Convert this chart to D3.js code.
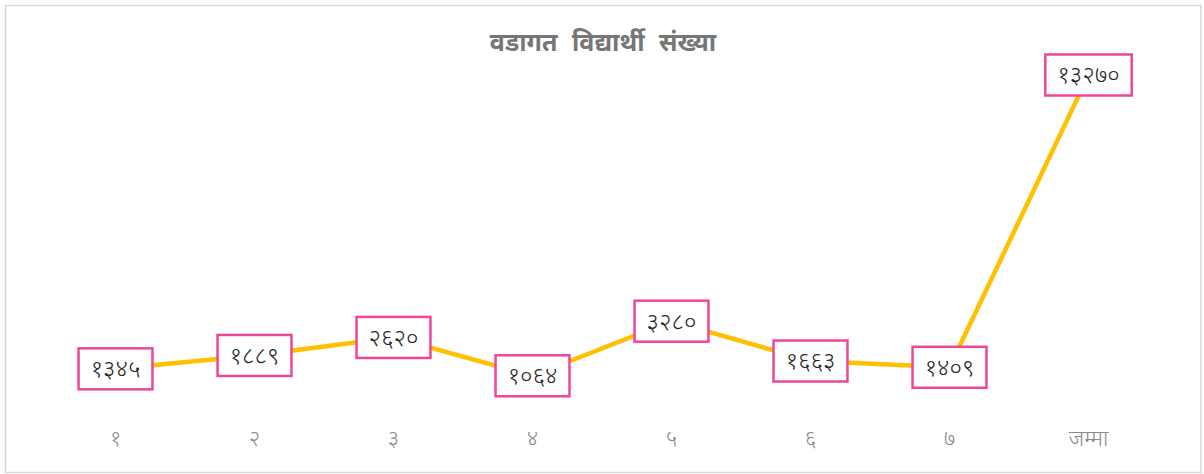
<!DOCTYPE html>
<html>
<head>
<meta charset="utf-8">
<script src="https://cdn.jsdelivr.net/npm/d3@7"></script>
<style>
  body { margin: 0; background: #fff; }
  svg { display: block; font-family: "Noto Sans", "Noto Sans Devanagari", "Lohit Devanagari", sans-serif; }
</style>
</head>
<body>
<div id="chart"></div>
<script>
// Ward-wise student counts
const title = 'वडागत विद्यार्थी संख्या';
const categories = ['१', '२', '३', '४', '५', '६', '७', 'जम्मा'];
const values = [1345, 1889, 2620, 1064, 3280, 1663, 1409, 13270];

const width = 1204, height = 474;
const margin = { top: 57, right: 46, bottom: 72, left: 46 };

// Convert western digits to Devanagari digits for the labels
const devaDigits = '०१२३४५६७८९';
const toDeva = n => String(n).replace(/[0-9]/g, c => devaDigits[+c]);

const svg = d3.select('#chart')
  .append('svg')
  .attr('width', width)
  .attr('height', height);

// Outer chart border
svg.append('rect')
  .attr('x', 5.5).attr('y', 5.5)
  .attr('width', 1195.5).attr('height', 467)
  .attr('fill', '#fff')
  .attr('stroke', '#d9d9d9')
  .attr('stroke-width', 1.5);

svg.append('text')
  .attr('x', width / 2 + 1)
  .attr('y', 51)
  .attr('text-anchor', 'middle')
  .attr('fill', '#767676')
  .attr('font-size', 25)
  .attr('font-weight', 'bold')
  .attr('word-spacing', 8)
  .text(title);

const x = d3.scaleBand()
  .domain(categories)
  .range([margin.left, width - margin.right]);

const y = d3.scaleLinear()
  .domain([0, 14000])
  .range([height - margin.bottom, margin.top]);

// x axis: labels only, no line or ticks
const xAxis = d3.axisBottom(x).tickSize(0).tickPadding(0);
const xg = svg.append('g')
  .attr('transform', `translate(0,${height - margin.bottom})`)
  .call(xAxis);
xg.select('.domain').remove();
xg.selectAll('text')
  .attr('y', 44)
  .attr('dy', 0)
  .attr('fill', '#8a8a8a')
  .attr('font-size', 22)
  .attr('font-weight', 300)
  .style('font-family', '"Noto Sans", "Noto Sans Devanagari", sans-serif');

const cx = d => x(d) + x.bandwidth() / 2;

const line = d3.line()
  .x((d, i) => cx(categories[i]))
  .y(d => y(d));

svg.append('path')
  .datum(values)
  .attr('fill', 'none')
  .attr('stroke', '#ffc000')
  .attr('stroke-width', 4.5)
  .attr('stroke-linejoin', 'round')
  .attr('d', line);

// Data labels in boxed callouts
const labels = svg.append('g')
  .selectAll('g')
  .data(values)
  .join('g')
  .attr('transform', (d, i) => `translate(${cx(categories[i])},${y(d)})`);

const boxes = labels.append('rect')
  .attr('fill', '#fff')
  .attr('stroke', '#f0469a')
  .attr('stroke-width', 2.5);

const texts = labels.append('text')
  .attr('text-anchor', 'middle')
  .attr('dy', '0.35em')
  .attr('fill', '#262626')
  .attr('font-size', 24)
  .attr('font-weight', 300)
  .text(d => toDeva(d));

texts.each(function(d, i) {
  const w = this.getComputedTextLength() + 24;
  d3.select(boxes.nodes()[i])
    .attr('x', -w / 2)
    .attr('y', -20.5)
    .attr('width', w)
    .attr('height', 41);
});
</script>
</body>
</html>
